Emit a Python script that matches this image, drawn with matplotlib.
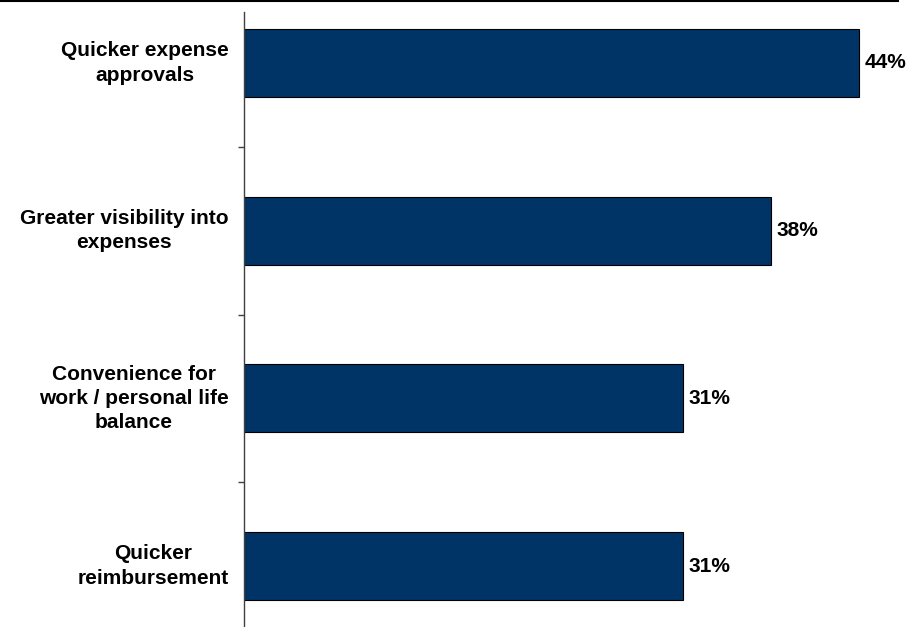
import matplotlib.pyplot as plt
from matplotlib.lines import Line2D

# Chart data, top to bottom.
categories = [
    "Quicker expense\napprovals",
    "Greater visibility into\nexpenses",
    "Convenience for\nwork / personal life\nbalance",
    "Quicker\nreimbursement",
]
values = [44.0, 37.7, 31.4, 31.4]
value_labels = ["44%", "38%", "31%", "31%"]

BAR_COLOR = "#003366"
FONT = "Liberation Sans"

fig = plt.figure(figsize=(9.09, 6.27), dpi=100)
# Axes placed in pixel terms: spine at x=244, top of spine at y=12.
ax = fig.add_axes([244 / 909, 0, 643 / 909, 615 / 627])

positions = list(range(len(categories)))
ax.barh(positions, values, height=0.405, color=BAR_COLOR,
        edgecolor="black", linewidth=0.8)

for y, v, lab in zip(positions, values, value_labels):
    ax.text(v + 0.4, y, lab, va="center", ha="left", fontsize=15,
            fontweight="bold", family=FONT, color="black")

# Category labels as text so multi-line blocks stay centred.
for y, cat in zip(positions, categories):
    ax.text(-1.1, y, cat, va="center", ha="right", multialignment="center",
            fontsize=15, fontweight="bold", family=FONT, color="black",
            linespacing=1.35)

ax.set_xlim(0, 46)
ax.set_ylim(3.363, -0.304)

# Ticks between categories on the left spine.
ax.set_yticks([0.5, 1.5, 2.5])
ax.set_yticklabels([])
ax.tick_params(axis="y", direction="out", length=4.5, width=1, color="#404040")
ax.set_xticks([])
for side in ["top", "right", "bottom"]:
    ax.spines[side].set_visible(False)
ax.spines["left"].set_color("#404040")
ax.spines["left"].set_linewidth(1)

# Rule across the top of the slide.
fig.add_artist(Line2D([0, 898 / 909], [1 - 1 / 627, 1 - 1 / 627],
                      transform=fig.transFigure, color="black", linewidth=1.5))

fig.savefig("out.png", dpi=100)
